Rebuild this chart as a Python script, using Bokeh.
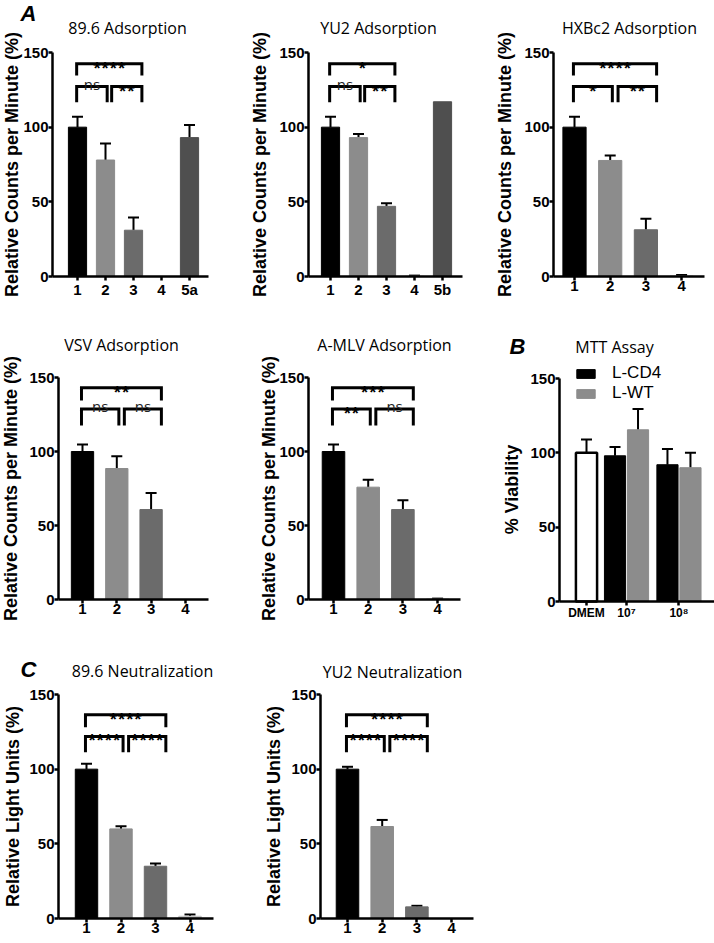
import math
from bokeh.plotting import figure
from bokeh.models import Range1d, FixedTicker, ColumnDataSource, Whisker, TeeHead, Label
from bokeh.layouts import row, column
from bokeh.core.properties import value
from bokeh.embed import file_html
from bokeh.resources import INLINE

# ---------------- DATA ----------------
# A: adsorption assays, relative counts per minute (%)
ads896_cats = ["1", "2", "3", "4", "5a"]
ads896_mean = [100, 78, 31, 0, 93]
ads896_err = [7, 11, 8.5, 0, 8.5]
ads896_sig = ["****", "ns", "**"]

adsyu2_cats = ["1", "2", "3", "4", "5b"]
adsyu2_mean = [100, 93, 47, 0.2, 117]
adsyu2_err = [7, 2.5, 2, 0.4, 0]
adsyu2_sig = ["*", "ns", "**"]

adshxb_cats = ["1", "2", "3", "4"]
adshxb_mean = [100, 77.7, 31.3, 0.3]
adshxb_err = [7, 3.3, 7.3, 0.7]
adshxb_sig = ["****", "*", "**"]

adsvsv_cats = ["1", "2", "3", "4"]
adsvsv_mean = [100, 88.5, 60.8, 0]
adsvsv_err = [4.7, 8.3, 11.2, 0]
adsvsv_sig = ["**", "ns", "ns"]

adsmlv_cats = ["1", "2", "3", "4"]
adsmlv_mean = [100, 75.9, 60.8, 0.3]
adsmlv_err = [4.7, 5.0, 6.3, 0.3]
adsmlv_sig = ["***", "**", "ns"]

# comparisons drawn as brackets: (1 vs 3), (1 vs 2), (2 vs 3)
sig_pairs = [(1, 3), (1, 2), (2, 3)]

# B: MTT assay, % viability
mtt_groups = ["DMEM", "10\u2077", "10\u2078"]
mtt_dmem_mean = [100]
mtt_dmem_err = [9]
mtt_cd4_mean = [98, 92]
mtt_cd4_err = [6, 10.5]
mtt_wt_mean = [115.5, 90]
mtt_wt_err = [14, 10]
mtt_series = ["L-CD4", "L-WT"]

# C: neutralization, relative light units (%)
neu896_cats = ["1", "2", "3", "4"]
neu896_mean = [100, 60, 35, 1.5]
neu896_err = [3.6, 1.8, 1.8, 1.2]
neu896_sig = ["****", "****", "****"]

neuyu2_cats = ["1", "2", "3", "4"]
neuyu2_mean = [100, 61.6, 7.8, 0]
neuyu2_err = [1.6, 4.4, 0.7, 0]
neuyu2_sig = ["****", "****", "****"]

y_ticks = [0, 50, 100, 150]

# ---------------- STYLE ----------------
AX_FONT = "Liberation Sans"
TT_FONT = "Open Sans"
BAR_COLORS = ["#000000", "#8c8c8c", "#6b6b6b", "#c4c4c4", "#4f4f4f"]


class Panel:
    """One figure whose frame covers the whole figure; the axes sit at fixed data
    locations so that titles, letters and axis titles can live inside the frame."""

    def __init__(self, box, px1, ppu, ax_px, end_px, py0, py150, x_ref=1):
        X0, Y0, W, H = box
        self.px1, self.ppu, self.x_ref = px1, ppu, x_ref
        self.py0, self.ppy = py0, (py0 - py150) / 150.0
        p = figure(width=W, height=H,
                   x_range=Range1d(self.X(X0), self.X(X0 + W)),
                   y_range=Range1d(self.Y(Y0 + H), self.Y(Y0)),
                   output_backend="svg", toolbar_location=None,
                   min_border_left=0, min_border_right=0, min_border_top=0, min_border_bottom=0)
        p.outline_line_color = None
        p.xgrid.visible = False
        p.ygrid.visible = False
        for ax in (p.xaxis[0], p.yaxis[0]):
            ax.axis_line_width = 2.5
            ax.axis_line_color = "black"
            ax.major_tick_line_width = 2.5
            ax.major_tick_line_color = "black"
            ax.major_tick_in = 0
            ax.major_tick_out = 4
            ax.minor_tick_line_color = None
            ax.major_label_text_font = AX_FONT
            ax.major_label_text_font_style = "bold"
            ax.major_label_text_font_size = "15px"
            ax.major_label_text_color = "black"
            ax.major_label_standoff = 0
        ya, xa = p.yaxis[0], p.xaxis[0]
        ya.ticker = FixedTicker(ticks=y_ticks)
        ya.fixed_location = self.X(ax_px)
        ya.bounds = (0, 150)
        xa.fixed_location = 0
        xa.bounds = (self.X(ax_px), self.X(end_px))
        self.p = p

    def X(self, px):
        return self.x_ref + (px - self.px1) / self.ppu

    def Y(self, py):
        return (self.py0 - py) / self.ppy

    def text(self, px, py, text, font=TT_FONT, size="16px", style="normal", angle=0):
        self.p.add_layout(Label(x=self.X(px), y=self.Y(py), text=text, angle=angle,
                                text_font=font, text_font_size=size, text_font_style=style,
                                text_align="center", text_baseline="middle",
                                text_color="black"))


def add_bars(p, xs, mean, err, fills, lines, width, line_width=1, legend=None):
    src = ColumnDataSource(dict(x=xs, top=mean, fill=fills, line=lines))
    kw = dict(legend_label=legend) if legend else {}
    p.vbar(x="x", top="top", width=width, source=src, fill_color="fill",
           line_color="line", line_width=line_width, **kw)
    ex = [x for x, e in zip(xs, err) if e > 0]
    lo = [m for m, e in zip(mean, err) if e > 0]
    hi = [m + e for m, e in zip(mean, err) if e > 0]
    if ex:
        esrc = ColumnDataSource(dict(x=ex, lo=lo, hi=hi))
        p.add_layout(Whisker(source=esrc, base="x", lower="lo", upper="hi", dimension="height",
                             line_color="black", line_width=2, lower_head=None,
                             upper_head=TeeHead(size=11, line_width=2, line_color="black")))


def add_brackets(p, sig, top_h, top_leg, low_h, low_leg):
    xs, ys = [], []
    star = dict(x=[], y=[], t=[])
    word = dict(x=[], y=[], t=[])
    for (i, j), lab in zip(sig_pairs, sig):
        a = i - 0.03 if i == 1 else i + 0.22
        b = j + 0.06 if j == 2 else j + 0.3
        h, leg = (top_h, top_leg) if (j - i) == 2 else (low_h, low_leg)
        xs.append([a, a, b, b])
        ys.append([leg, h, h, leg])
        d = star if "*" in lab else word
        d["x"].append((a + b) / 2)
        d["y"].append(h)
        d["t"].append(lab)
    p.multi_line(xs, ys, line_color="black", line_width=3, line_join="miter")
    if star["t"]:
        p.text(x=star["x"], y=star["y"], text=star["t"], y_offset=3, text_align="center",
               text_baseline="alphabetic", text_font=value(TT_FONT), text_font_size="15px",
               text_font_style="bold", text_color="black")
    if word["t"]:
        p.text(x=word["x"], y=word["y"], text=word["t"], y_offset=-3, text_align="center",
               text_baseline="alphabetic", text_font=value(TT_FONT), text_font_size="15px",
               text_color="#222222")


def bar_panel(box, px1, ppu, ax_px, end_px, py0, py150, cats, mean, err, sig, br,
              title, title_at, ylab, ylab_x, letter=None):
    pn = Panel(box, px1, ppu, ax_px, end_px, py0, py150)
    p = pn.p
    xs = list(range(1, len(cats) + 1))
    cols = [BAR_COLORS[i] for i in range(len(cats))]
    add_bars(p, xs, mean, err, cols, cols, 0.65)
    p.xaxis[0].ticker = FixedTicker(ticks=xs)
    p.xaxis[0].major_label_overrides = {x: c for x, c in zip(xs, cats)}
    add_brackets(p, sig, *br)
    pn.text(title_at[0], title_at[1], title)
    pn.text(ylab_x, (py0 + py150) / 2, ylab, font=AX_FONT, size="18px", style="bold",
            angle=math.pi / 2)
    if letter:
        pn.text(letter[1], letter[2], letter[0], font=AX_FONT, size="22px", style="bold italic")
    return p


RCPM = "Relative Counts per Minute (%)"
RLU = "Relative Light Units (%)"
BR1 = (142.4, 134.6, 127.2, 116.7)
BR2 = (143.0, 134.5, 128.8, 117.6)
BR3 = (136.4, 128.0, 121.9, 111.4)

# Row 1  (boxes are in reference-picture pixels: left, top, width, height)
p1 = bar_panel((0, 0, 240, 300), 77, 28, 52, 208, 276, 52, ads896_cats, ads896_mean,
               ads896_err, ads896_sig, BR1, "89.6 Adsorption", (127, 27), RCPM, 11,
               ("A", 28, 13))
p2 = bar_panel((240, 0, 234, 300), 330, 28, 308, 462, 276, 52, adsyu2_cats, adsyu2_mean,
               adsyu2_err, adsyu2_sig, BR1, "YU2 Adsorption", (378, 27), RCPM, 259)
p3 = bar_panel((474, 0, 240, 300), 574, 35.7, 553, 704, 276, 52, adshxb_cats, adshxb_mean,
               adshxb_err, adshxb_sig, BR1, "HXBc2 Adsorption", (629, 27), RCPM, 504)

# Row 2
p4 = bar_panel((0, 300, 240, 320), 82, 34.3, 58, 208, 599, 377, adsvsv_cats, adsvsv_mean,
               adsvsv_err, adsvsv_sig, BR2, "VSV Adsorption", (121, 344), RCPM, 10)
p5 = bar_panel((240, 300, 234, 320), 333, 34.7, 308, 460, 599, 377, adsmlv_cats, adsmlv_mean,
               adsmlv_err, adsmlv_sig, BR2, "A-MLV Adsorption", (384, 344), RCPM, 268)

# MTT panel
mt = Panel((474, 300, 240, 320), 586, 23, 559, 714, 601, 378, x_ref=0)
pm = mt.p
grp_pos = [0, 1.74, 4.02]
add_bars(pm, [grp_pos[0]], mtt_dmem_mean, mtt_dmem_err, ["white"], ["black"], 0.92, line_width=2.5)
add_bars(pm, [g - 0.5 for g in grp_pos[1:]], mtt_cd4_mean, mtt_cd4_err,
         ["#000000"] * 2, ["#000000"] * 2, 0.92, legend=mtt_series[0])
add_bars(pm, [g + 0.5 for g in grp_pos[1:]], mtt_wt_mean, mtt_wt_err,
         ["#8c8c8c"] * 2, ["#8c8c8c"] * 2, 0.92, legend=mtt_series[1])
pm.xaxis[0].ticker = FixedTicker(ticks=grp_pos)
pm.xaxis[0].major_label_overrides = {g: n for g, n in zip(grp_pos, mtt_groups)}
pm.xaxis[0].major_label_text_font_size = "12px"
leg = pm.legend[0]
leg.location = (100, 217)
leg.glyph_width = 23
leg.glyph_height = 11
leg.label_text_font = AX_FONT
leg.label_text_font_size = "17px"
leg.label_text_color = "black"
leg.label_standoff = 15
leg.label_height = 17
leg.padding = 0
leg.margin = 0
leg.spacing = 0
leg.border_line_color = None
leg.background_fill_alpha = 0
mt.text(614, 346, "MTT Assay")
mt.text(511, 489, "% Viability", font=AX_FONT, size="18px", style="bold", angle=math.pi / 2)
mt.text(517, 346, "B", font=AX_FONT, size="22px", style="bold italic")

# Row 3
p7 = bar_panel((0, 620, 240, 323), 86, 34.5, 58, 213, 918, 694, neu896_cats, neu896_mean,
               neu896_err, neu896_sig, BR3, "89.6 Neutralization", (142, 670), RLU, 12,
               ("C", 28, 669))
p8 = bar_panel((240, 620, 240, 323), 347, 34.7, 320, 473, 918, 694, neuyu2_cats, neuyu2_mean,
               neuyu2_err, neuyu2_sig, BR3, "YU2 Neutralization", (392, 671), RLU, 273)

layout = column(row(p1, p2, p3), row(p4, p5, pm), row(p7, p8))
open("out.html", "w").write(file_html(layout, INLINE))
